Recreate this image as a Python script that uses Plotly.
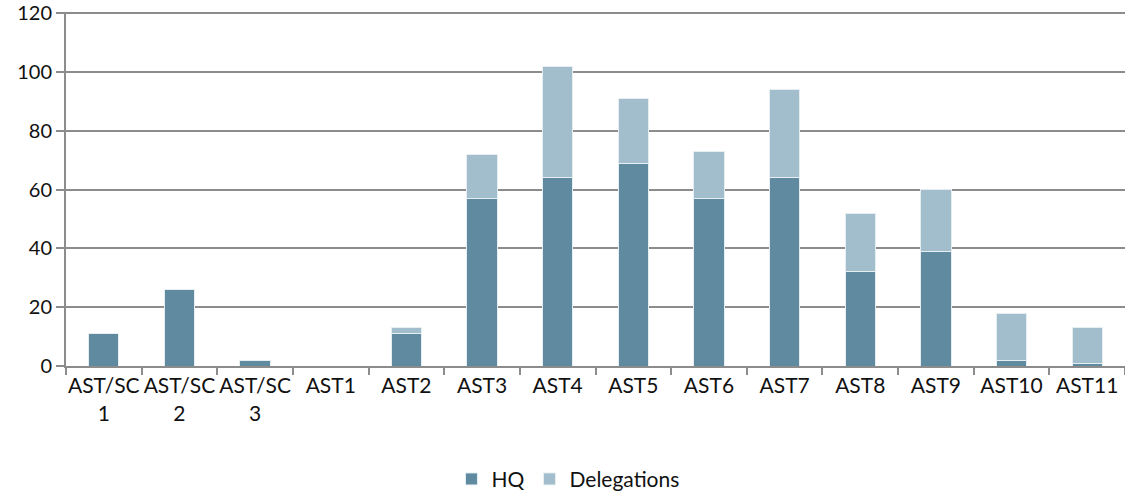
import plotly.graph_objects as go

categories = ["AST/SC<br>1", "AST/SC<br>2", "AST/SC<br>3", "AST1", "AST2", "AST3", "AST4",
              "AST5", "AST6", "AST7", "AST8", "AST9", "AST10", "AST11"]
hq = [11, 26, 2, 0, 11, 57, 64, 69, 57, 64, 32, 39, 2, 1]
delegations = [0, 0, 0, 0, 2, 15, 38, 22, 16, 30, 20, 21, 16, 12]
y_ticks = [0, 20, 40, 60, 80, 100, 120]

grid_col = "#8C8C8C"

fig = go.Figure()
fig.add_trace(go.Bar(x=categories, y=hq, name="HQ",
                     marker=dict(color="#5F8AA0", line=dict(color="#E6EEF2", width=1))))
fig.add_trace(go.Bar(x=categories, y=delegations, name="Delegations",
                     marker=dict(color="#A2BDCB", line=dict(color="#E6EEF2", width=1))))

fig.update_layout(
    barmode="stack",
    bargap=0.6,
    width=1125, height=495,
    margin=dict(l=66, r=0, t=12, b=129, autoexpand=False),
    plot_bgcolor="white", paper_bgcolor="white",
    font=dict(family="Lato, Open Sans, sans-serif", size=21, color="#111111"),
    legend=dict(orientation="h", x=0.474, xanchor="center", y=-0.32, yanchor="middle",
                font=dict(size=21), traceorder="normal", itemwidth=30),
)
fig.update_xaxes(showline=True, linecolor=grid_col, linewidth=2, tickangle=0,
                 ticks="outside", tickson="boundaries", ticklen=7, tickcolor=grid_col,
                 tickwidth=2, automargin=False)
fig.update_yaxes(range=[0, 120.4], tickvals=y_ticks, ticklabeloverflow="allow",
                 tickfont=dict(size=20),
                 showgrid=True, gridcolor=grid_col, gridwidth=1.5,
                 showline=True, linecolor=grid_col, linewidth=2,
                 ticks="outside", ticklen=8, tickcolor=grid_col, tickwidth=1.5,
                 zeroline=False, automargin=False)

fig.write_html("out.html", config={"displayModeBar": False},
               post_script="document.body.style.margin='0';")
